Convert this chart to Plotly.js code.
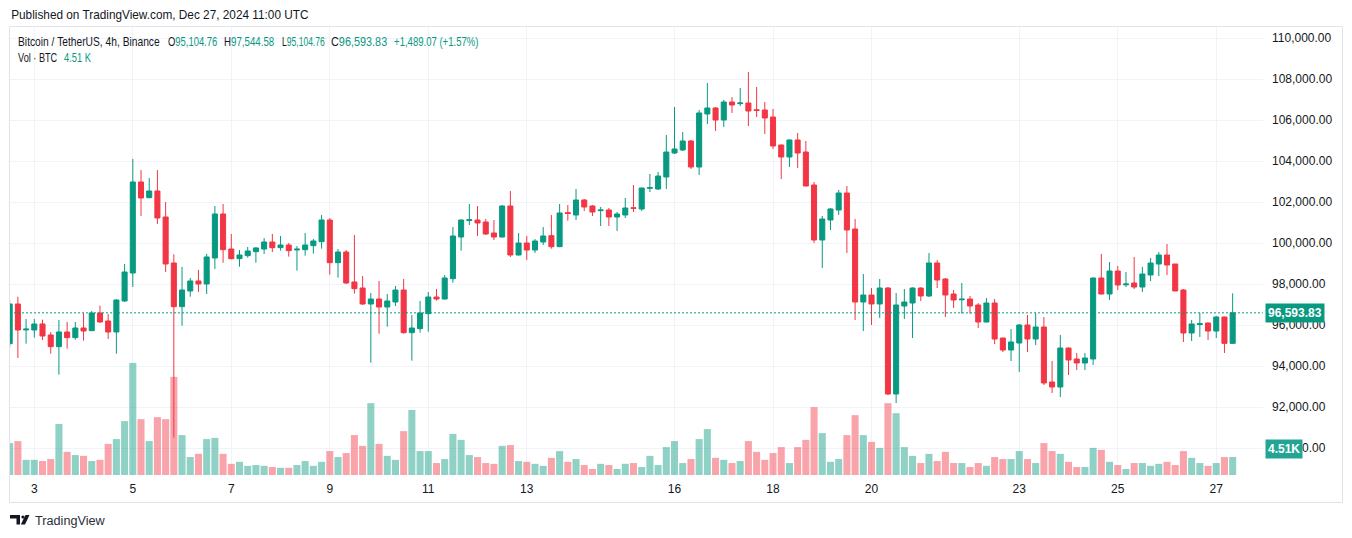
<!DOCTYPE html>
<html>
<head>
<meta charset="utf-8">
<script src="https://cdn.plot.ly/plotly-3.0.1.min.js"></script>
<style>
html,body{margin:0;padding:0;background:#ffffff;}
#chart{width:1352px;height:538px;}
</style>
</head>
<body>
<div id="chart"></div>
<script>
// ---- DATA: BTC/USDT 4h candles, Binance, from Dec 2 2024 12:00 UTC (one every 4 hours) ----
const startTime = '2024-12-02T12:00:00Z';
const open = [95088,97025,95760,95757,96049,95513,94944,95659,95383,95854,95724,96586,96196,95659,97171,98537,102976,102212,102537,101269,
99025,96895,97659,98147,98001,99269,101415,99708,99236,99383,99578,99708,100049,99772,99903,99660,99675,99870,100065,101122,
99041,99561,98098,97805,97025,97268,96878,97122,97707,95626,95821,96553,97366,97268,98260,100293,101100,101122,101025,100488,
100293,101805,99415,100000,99659,100049,100358,99821,101480,101366,102098,101805,101580,101610,101268,101366,101720,101659,102670,102634,
103220,104390,104537,104976,103708,106293,106586,106000,106878,106800,106829,106500,106488,106146,104781,104195,105025,104439,102829,100146,
101122,101610,102439,100683,97122,97463,97025,97805,92634,96927,97073,97805,97415,99025,98244,97512,97230,97268,96976,96146,
97073,95366,94780,95122,96000,95317,95902,93220,92976,94878,94341,94146,94341,98293,97512,98634,97960,98049,97853,98439,
98975,99414,98975,97707,95610,96020,96098,95707,96390,95104.76];
const high = [97200,97380,96293,96293,96261,95659,96244,96147,96147,96586,96684,96944,96537,97250,98976,104098,103561,103171,103561,101999,
99448,98830,98293,98684,99464,101805,101903,100439,99659,99805,99805,100244,100439,100342,100000,99854,100488,100195,101366,101220,
99707,99659,100390,98390,97561,98146,97512,97902,98244,96488,97171,97610,97756,98439,100780,101150,101902,101805,101171,101122,
101854,102537,100488,100342,100195,100780,101366,101903,101854,102634,102146,101854,101756,101707,101512,102195,102829,102700,103366,103463,
105268,106634,105415,105025,106488,107805,106634,106976,107122,107561,108342,107610,106878,106537,104800,105050,105366,104976,102976,101317,
101707,102585,102780,101171,98488,97805,98244,97854,97561,97756,97830,97830,99512,99171,98293,97707,98049,97415,97073,97317,
97268,95380,95805,96049,96488,96585,96390,94244,95512,94900,94634,94634,98320,99463,99073,98878,98585,99317,98829,99268,
99561,99951,98975,97756,96244,96585,96110,96439,96400,97544.58];
const low = [94900,94390,95090,95383,95269,94602,93578,94846,95285,95236,95700,96100,95318,94602,97122,97854,101318,102180,100927,98586,
90505,95968,97383,97610,97513,98732,99041,99200,98846,99285,99041,99464,99562,99626,99333,98650,99382,99480,99724,98455,
98309,98000,97528,96976,94163,95577,95919,96927,95577,94260,95626,95675,97187,97240,98065,99626,100878,100342,100390,100146,
100270,99317,99390,99171,99512,99903,99724,99800,101089,101122,101561,101317,100829,100829,100586,101220,101512,101561,102488,102585,
102634,104341,104488,103610,103317,105805,105464,105659,106342,106683,105707,106146,105317,104585,103122,103708,103659,102760,100000,98781,
100634,101366,99512,96244,95707,95999,96342,92585,92195,96293,95366,97171,97366,97805,96390,96829,96553,96553,95854,96120,
95073,94683,94244,93707,94683,95024,93073,92683,92488,93561,93805,93805,94049,97490,97219,97707,97853,97756,97610,98146,
98390,98439,97658,95171,95219,95415,95268,95366,94634,95104.76];
const close = [97025,95756,95800,96049,95464,94944,95659,95383,95854,95708,96586,96147,95659,97220,98586,102976,102196,102537,101220,98976,
96895,97708,98147,98001,99318,101415,99675,99236,99415,99610,99757,100049,99773,99903,99626,99700,99903,100098,101122,99041,
99561,98049,97772,97025,97268,96878,97171,97707,95626,95854,96585,97366,97268,98293,100342,101122,101130,100976,100439,100293,
101805,99415,100000,99659,100098,100342,99821,101464,101440,102098,101756,101512,101610,101268,101415,101707,101690,102683,102700,103268,
104439,104585,104976,103708,106342,106586,106000,106878,106732,106830,106439,106470,106098,104732,104195,105025,104390,102781,100147,101171,
101659,102439,100634,97122,97463,97025,97805,92634,96976,97122,97805,97415,99025,98195,97463,97219,97260,96927,96146,97073,
95317,94780,95171,96000,95317,95902,93171,92976,94878,94293,94146,94390,98293,97512,98634,97951,98000,97853,98488,99024,
99414,98927,97658,95610,96049,96060,95707,96390,95104.76,96593.83];
// volume in thousands of BTC
const volumeK = [8.0,8.5,3.8,3.8,3.5,4.0,12.8,5.8,5.0,4.8,3.5,3.8,7.8,9.0,13.5,28.1,14.0,8.5,14.5,14.0,
24.6,10.0,4.5,5.3,9.0,9.3,5.3,2.8,3.3,2.3,2.5,2.3,2.0,1.8,1.8,2.5,3.5,2.3,3.3,6.0,
4.5,5.5,10.0,7.3,18.0,7.8,4.8,3.8,11.0,16.3,6.0,6.0,3.0,4.0,10.3,8.8,5.0,4.5,3.0,2.8,
7.3,7.5,3.5,3.3,2.8,2.3,4.3,6.0,3.3,4.0,2.5,1.5,2.8,2.5,1.5,2.8,3.0,2.0,4.8,2.5,
7.0,8.5,3.0,4.0,9.0,11.5,4.3,3.8,3.0,3.5,8.5,5.8,3.8,5.5,7.0,3.0,7.0,8.8,17.0,10.5,
3.3,4.0,10.0,15.0,10.0,8.3,6.8,18.0,15.5,7.0,4.8,3.0,5.3,3.5,5.8,3.0,3.0,2.0,3.0,2.3,
4.5,4.0,4.0,6.0,4.0,3.0,8.0,6.0,5.3,3.3,2.0,2.0,6.8,6.3,3.3,2.5,1.5,3.0,3.0,2.3,
2.8,3.3,2.5,6.0,4.3,3.0,2.3,3.0,4.5,4.51];
const tickDates = ['2024-12-03','2024-12-05','2024-12-07','2024-12-09','2024-12-11','2024-12-13','2024-12-16','2024-12-18','2024-12-20','2024-12-23','2024-12-25','2024-12-27'];
const tickText = ['3','5','7','9','11','13','16','18','20','23','25','27'];
const lastPrice = 96593.83;
const lastVolText = '4.51K';

// ---- helpers ----
function fmt(d){const p=n=>String(n).padStart(2,'0');return d.getUTCFullYear()+'-'+p(d.getUTCMonth()+1)+'-'+p(d.getUTCDate())+' '+p(d.getUTCHours())+':'+p(d.getUTCMinutes())+':'+p(d.getUTCSeconds());}
const t0 = Date.parse(startTime);
const times = open.map((_,i)=>fmt(new Date(t0 + i*4*3600*1000)));

const GREEN='#089981', RED='#f23645';
const volColors = open.map((o,i)=> close[i]>=o ? 'rgba(8,153,129,0.45)' : 'rgba(242,54,69,0.45)');

// plot area in pixels
const PX0=10, PX1=1263, PY0=27, PY1=476;
const px = x => (x-PX0)/(PX1-PX0);
const py = y => (PY1-y)/(PY1-PY0);
const FONT = 'Liberation Sans, Arial, sans-serif';
const TXT = '#131722';

const G = s => '<span style="color:'+GREEN+'">'+s+'</span>';
// text items: [x px, y px, html, target width px, font size, color]
const textItems = [
  [9,15,'Published on TradingView.com, Dec 27, 2024 11:00 UTC',298,12,TXT],
  [15.5,42,'Bitcoin / TetherUS, 4h, Binance',142,12,TXT],
  [165.5,42,'O'+G('95,104.76'),49.5,12,TXT],
  [222,42,'H'+G('97,544.58'),50.5,12,TXT],
  [280,42,'L'+G('95,104.76'),43,12,TXT],
  [329,42,'C'+G('96,593.83'),56.5,12,TXT],
  [392,42,G('+1,489.07 (+1.57%)'),84.5,12,TXT],
  [15.5,58,'Vol · BTC',39.5,12,TXT],
  [62,58,G('4.51 K'),27,12,TXT],
  [33,520.5,'TradingView',70,13.5,'#2a2e39']
];

const volume = {
  type:'bar', x:times, y:volumeK, marker:{color:volColors, line:{width:0}},
  xaxis:'x', yaxis:'y', hoverinfo:'skip', showlegend:false
};
const candles = {
  type:'candlestick', x:times, open:open, high:high, low:low, close:close,
  xaxis:'x', yaxis:'y2',
  increasing:{line:{color:GREEN,width:1}, fillcolor:GREEN},
  decreasing:{line:{color:RED,width:1}, fillcolor:RED},
  whiskerwidth:0, hoverinfo:'skip', showlegend:false
};

function ann(x,y,text,size,color){return {xref:'paper',yref:'paper',x:px(x),y:py(y),text:text,showarrow:false,xanchor:'left',yanchor:'middle',font:{family:FONT,size:size,color:color}};}

const annotations = [
  ...textItems.map(it=>ann(it[0],it[1],it[2],it[4],it[5])),
  {xref:'paper',yref:'y2',x:1,xshift:2,y:lastPrice,xanchor:'left',yanchor:'middle',showarrow:false,
   text:'<b>96,593.83</b>',font:{family:FONT,size:12,color:'#ffffff'},bgcolor:GREEN,borderpad:2},
  {xref:'paper',yref:'y',x:1,xshift:2,y:volumeK[volumeK.length-1],yshift:8,xanchor:'left',yanchor:'middle',showarrow:false,
   text:'<b>'+lastVolText+'</b>',font:{family:FONT,size:12,color:'#ffffff'},bgcolor:'#22a594',borderpad:2}
];

function P(pts){return 'M '+pts.map(p=>px(p[0])+' '+py(p[1])).join(' L ')+' Z';}
const shapes = [
  {type:'rect',xref:'paper',yref:'paper',x0:px(9.5),x1:px(1342.5),y0:py(502.5),y1:py(26.5),line:{color:'#e0e3eb',width:1},layer:'below'},
  {type:'line',xref:'paper',yref:'y2',x0:0,x1:1,y0:lastPrice,y1:lastPrice,line:{color:GREEN,width:1,dash:'2px,2px'}},
  // TradingView logo
  {type:'path',xref:'paper',yref:'paper',path:P([[10,515],[20,515],[20,524.5],[16.5,524.5],[16.5,518.5],[10,518.5]]),fillcolor:'#131722',line:{width:0}},
  {type:'circle',xref:'paper',yref:'paper',x0:px(21.3),x1:px(24.5),y0:py(518.6),y1:py(515.4),fillcolor:'#131722',line:{width:0}},
  {type:'path',xref:'paper',yref:'paper',path:P([[25.5,515],[29.5,515],[25,524.5],[20.8,524.5]]),fillcolor:'#131722',line:{width:0}}
];

const layout = {
  width:1352, height:538,
  margin:{l:PX0, r:1352-PX1, t:PY0, b:538-PY1, pad:0},
  paper_bgcolor:'#ffffff', plot_bgcolor:'#ffffff',
  showlegend:false, dragmode:false, hovermode:false,
  boxgap:0.3, boxgroupgap:0.12, bargap:0.14,
  font:{family:FONT,size:12,color:TXT},
  xaxis:{type:'date', range:['2024-12-02 12:09:29','2024-12-27 22:46:50'],
    tickvals:tickDates, ticktext:tickText, ticks:'', showgrid:true, gridcolor:'#f0f3fa', gridwidth:1,
    zeroline:false, showline:false, rangeslider:{visible:false}, fixedrange:true,
    tickfont:{family:FONT,size:12,color:TXT}, ticklabelstandoff:4},
  yaxis:{range:[-0.25,112.27], visible:false, fixedrange:true, showgrid:false, zeroline:false},
  yaxis2:{overlaying:'y', side:'right', range:[88634.1,110536.6], tick0:0, dtick:2000,
    tickformat:',.2f', ticks:'', showgrid:true, gridcolor:'#f0f3fa', gridwidth:1, zeroline:false, showline:false,
    tickfont:{family:FONT,size:12,color:TXT}, ticklabelstandoff:8, fixedrange:true},
  annotations:annotations, shapes:shapes
};

const gd = document.getElementById('chart');
Plotly.newPlot(gd,[volume,candles],layout,{staticPlot:true,displayModeBar:false,responsive:false}).then(()=>{
  // condense texts horizontally to the reference's narrower font width
  textItems.forEach((it,i)=>{
    const t = gd.querySelector('g.annotation[data-index="'+i+'"] text.annotation-text');
    if(!t) return;
    const bb = t.getBBox();
    if(!bb.width) return;
    const sx = Math.min(1, it[3]/bb.width);
    const prev = t.getAttribute('transform') || '';
    t.setAttribute('transform', prev+' translate('+bb.x+' 0) scale('+sx+' 1) translate('+(-bb.x)+' 0)');
  });
});
</script>
</body>
</html>
